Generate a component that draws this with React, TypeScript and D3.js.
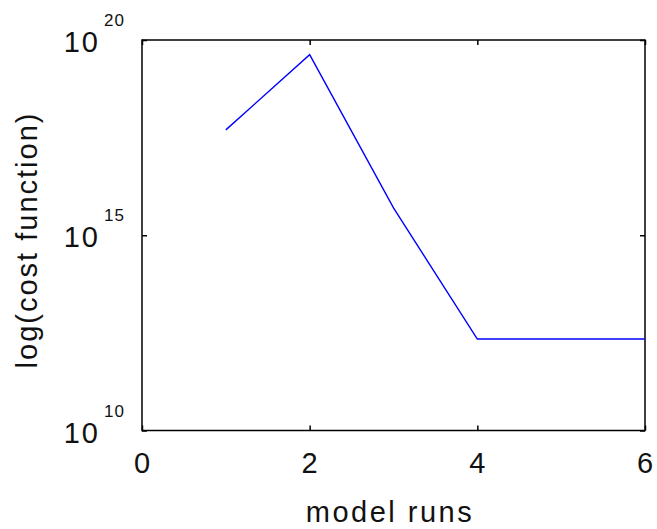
import React, { useEffect, useRef } from 'react';
import * as d3 from 'd3';

// model runs vs cost function (log scale)
const runs = [1, 2, 3, 4, 5, 6];
const cost = [5e17, 4.2e19, 5e15, 2.2e12, 2.2e12, 2.2e12];
const xTicks = [0, 2, 4, 6];
const yTicks = [1e10, 1e15, 1e20];
const yExponents = ['10', '15', '20'];

export default function App() {
    const ref = useRef<SVGSVGElement>(null);

    useEffect(() => {
        const svg = d3.select(ref.current);
        svg.selectAll('*').remove();

        const left = 142, right = 645, top = 40, bottom = 430.5;
        const font = 'Liberation Sans, Arial, sans-serif';

        const x = d3.scaleLinear().domain([0, 6]).range([left, right]);
        const y = d3.scaleLog().domain([1e10, 1e20]).range([bottom, top]);

        // ticks on all four sides, pointing inward, no labels
        const tick = (g: any) => {
            g.select('.domain').remove();
            g.selectAll('text').remove();
            g.selectAll('line').attr('stroke', '#000').attr('stroke-width', 1.5);
        };
        svg.append('g').attr('transform', `translate(0,${bottom})`)
            .call(d3.axisBottom(x).tickValues(xTicks).tickSize(-5).tickSizeOuter(0)).call(tick);
        svg.append('g').attr('transform', `translate(0,${top})`)
            .call(d3.axisTop(x).tickValues(xTicks).tickSize(-5).tickSizeOuter(0)).call(tick);
        svg.append('g').attr('transform', `translate(${left},0)`)
            .call(d3.axisLeft(y).tickValues(yTicks).tickSize(-5).tickSizeOuter(0)).call(tick);
        svg.append('g').attr('transform', `translate(${right},0)`)
            .call(d3.axisRight(y).tickValues(yTicks).tickSize(-5).tickSizeOuter(0)).call(tick);

        // frame
        svg.append('rect')
            .attr('x', left).attr('y', top)
            .attr('width', right - left).attr('height', bottom - top)
            .attr('fill', 'none').attr('stroke', '#000').attr('stroke-width', 1.5);

        // x tick labels
        svg.selectAll('.xlab').data(xTicks).enter().append('text')
            .attr('x', d => x(d)).attr('y', 473)
            .attr('text-anchor', 'middle')
            .attr('font-family', font).attr('font-size', 29)
            .attr('fill', '#111')
            .text(d => d);

        // y tick labels 10^n
        svg.selectAll('.ybase').data(yTicks).enter().append('text')
            .attr('x', 100).attr('y', d => y(d) + 12)
            .attr('text-anchor', 'end')
            .attr('font-family', font).attr('font-size', 29)
            .attr('letter-spacing', 2)
            .attr('fill', '#111')
            .text('10');
        svg.selectAll('.yexp').data(yTicks).enter().append('text')
            .attr('x', 104).attr('y', d => y(d) - 14)
            .attr('font-family', font).attr('font-size', 17)
            .attr('letter-spacing', 1)
            .attr('fill', '#111')
            .text((d, i) => yExponents[i]);

        // axis titles
        svg.append('text')
            .attr('x', 390).attr('y', 522)
            .attr('text-anchor', 'middle')
            .attr('font-family', font).attr('font-size', 29)
            .attr('letter-spacing', 2.5)
            .attr('fill', '#111')
            .text('model runs');
        svg.append('text')
            .attr('transform', 'translate(37,240) rotate(-90)')
            .attr('text-anchor', 'middle')
            .attr('font-family', font).attr('font-size', 29)
            .attr('letter-spacing', 2)
            .attr('fill', '#111')
            .text('log(cost function)');

        // data line
        const line = d3.line<number>()
            .x((d, i) => x(runs[i]))
            .y(d => y(d));
        svg.append('path')
            .datum(cost)
            .attr('d', line)
            .attr('fill', 'none')
            .attr('stroke', '#0000ff')
            .attr('stroke-width', 1.4);
    }, []);

    return (
        <div style={{ position: 'absolute', left: 0, top: 0 }}>
            <svg ref={ref} width={657} height={529} style={{ display: 'block', background: '#fff' }} />
        </div>
    );
}
